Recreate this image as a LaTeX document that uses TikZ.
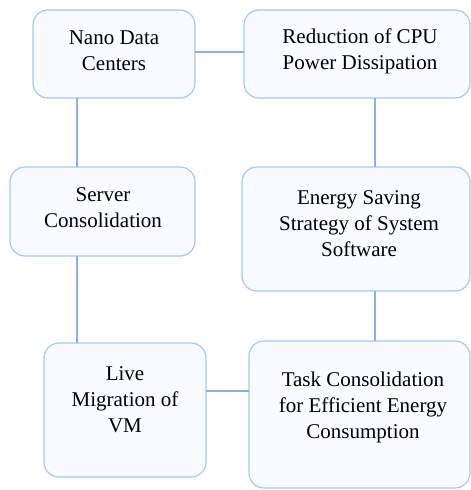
\documentclass[tikz,border=0pt]{standalone}
\usepackage{fontspec}
\setmainfont{Liberation Serif}
\newfontfamily\boxfont{Liberation Serif}
\definecolor{boxline}{HTML}{A8C8F0}
\definecolor{boxfill}{HTML}{F8FBFF}
\definecolor{conn}{HTML}{8CB0E4}
\begin{document}
\begin{tikzpicture}[x=1pt,y=-1pt,
  card/.style={draw=boxline,fill=boxfill,line width=1.2pt,rounded corners=15pt},
  lbl/.style={align=center,font=\boxfont\fontsize{21}{26}\selectfont,inner sep=0pt},
  link/.style={draw=conn,line width=1.3pt}]
\useasboundingbox (0,0) rectangle (471,490);
% boxes
\draw[card] (33,10) rectangle (195,98);
\node[lbl] (a) at (114,51) {Nano Data\\Centers};
\coordinate (aS) at (77,98); \coordinate (aE) at (195,52);
\draw[card] (244,10) rectangle (470,98);
\node[lbl] (b) at (360,51) {Reduction of CPU\\Power Dissipation};
\coordinate (bS) at (375,98); \coordinate (bW) at (244,52);
\draw[card] (10,167) rectangle (195,256);
\node[lbl] (c) at (103,208) {Server\\Consolidation};
\coordinate (cN) at (77,167); \coordinate (cS) at (77,256);
\draw[card] (242,167) rectangle (470,291);
\node[lbl] (d) at (359,224) {Energy Saving\\Strategy of System\\Software};
\coordinate (dN) at (375,167); \coordinate (dS) at (375,291);
\draw[card] (44,343) rectangle (206,477);
\node[lbl] (e) at (125,400) {Live\\Migration of\\VM};
\coordinate (eN) at (77,343); \coordinate (eE) at (206,391);
\draw[card] (249,341) rectangle (470,488);
\node[lbl] (f) at (363,407) {Task Consolidation\\for Efficient Energy\\Consumption};
\coordinate (fN) at (375,341); \coordinate (fW) at (249,391);
% connectors
\draw[link] (aE) -- (bW);
\draw[link] (aS) -- (cN);
\draw[link] (bS) -- (dN);
\draw[link] (cS) -- (eN);
\draw[link] (dS) -- (fN);
\draw[link] (eE) -- (fW);
\end{tikzpicture}
\end{document}
